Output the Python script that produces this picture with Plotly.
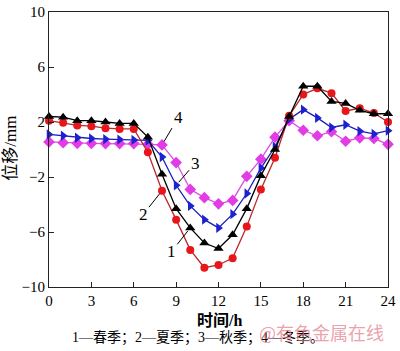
import plotly.graph_objects as go

hours = list(range(25))
spring = [2.4, 2.35, 2.1, 2.1, 2.0, 1.9, 1.9, 0.9, -1.8, -4.3, -5.7, -6.8, -7.2, -6.2, -4.3, -1.9, 0.0, 2.4, 4.6, 4.6, 3.5, 3.35, 2.85, 2.6, 2.6]
summer = [2.1, 1.95, 1.75, 1.7, 1.55, 1.5, 1.5, -0.2, -3.0, -5.1, -7.3, -8.6, -8.4, -7.9, -5.6, -2.9, -0.6, 2.45, 4.0, 4.45, 4.1, 2.8, 3.0, 2.65, 2.0]
autumn = [1.1, 1.0, 0.85, 0.8, 0.75, 0.72, 0.7, 0.66, -0.55, -2.6, -4.1, -5.1, -5.7, -4.7, -3.2, -1.35, 0.2, 2.2, 2.9, 2.3, 1.6, 1.8, 1.33, 1.13, 1.37]
winter = [0.55, 0.5, 0.45, 0.45, 0.43, 0.43, 0.43, 0.38, 0.33, -0.95, -2.9, -3.5, -3.95, -3.7, -1.95, -0.7, 0.9, 2.1, 1.4, 1.0, 1.3, 0.6, 0.85, 0.8, 0.38]

x_ticks = [0, 3, 6, 9, 12, 15, 18, 21, 24]
y_ticks = [-10, -6, -2, 2, 6, 10]
caption = "1—春季；2—夏季；3—秋季；4—冬季。"

serif = "Liberation Serif, Noto Sans CJK SC"

fig = go.Figure()
series = [
    (winter, "#e23ce6", "#d94ee0", "diamond", 9),
    (autumn, "#1d22d0", "#1a1eb8", "triangle-right", 9),
    (summer, "#e8161a", "#b8282a", "circle", 8),
    (spring, "#000000", "#000000", "triangle-up", 9),
]
for vals, mc, lc, sym, sz in series:
    fig.add_trace(go.Scatter(
        x=hours, y=vals, mode="lines+markers",
        line=dict(color=lc, width=1.3),
        marker=dict(symbol=sym, size=sz, color=mc, line=dict(width=0)),
        cliponaxis=False, showlegend=False,
    ))

ann_font = dict(family=serif, size=17, color="#000")
labels = [
    ("4", hours[8], winter[8], 16, -27),
    ("3", hours[9], autumn[9], 19, -22),
    ("2", hours[8], summer[8], -19, 24),
    ("1", hours[10], spring[10], -19, 24),
]
annotations = []
for txt, xv, yv, ax, ay in labels:
    annotations.append(dict(x=xv, y=yv, xref="x", yref="y", text=txt, showarrow=True,
                            arrowhead=0, arrowwidth=1, arrowcolor="#000", ax=ax, ay=ay,
                            standoff=4, font=ann_font))

annotations += [
    dict(text="<b>时间/h</b>", x=0.503, y=-0.1226, xref="paper", yref="paper",
         showarrow=False, xanchor="center", yanchor="middle",
         font=dict(family=serif, size=16, color="#000")),
    dict(text="位移/mm", x=-0.116, y=0.505, xref="paper", yref="paper", textangle=-90,
         showarrow=False, xanchor="center", yanchor="middle",
         font=dict(family=serif, size=17, color="#000")),
    dict(text=caption, x=0.439, y=-0.187, xref="paper", yref="paper",
         showarrow=False, xanchor="center", yanchor="middle",
         font=dict(family=serif, size=14, color="#000")),
    dict(text="@有色金属在线", x=0.805, y=-0.1625, xref="paper", yref="paper",
         showarrow=False, xanchor="center", yanchor="middle",
         font=dict(family="Noto Sans CJK SC", size=18, color="rgba(226,120,135,0.7)")),
]

axis_common = dict(showgrid=False, zeroline=False, showline=True, linecolor="#222",
                   linewidth=1.2, mirror=True, ticks="inside", ticklen=5, tickwidth=1,
                   tickcolor="#222", ticklabeloverflow="allow",
                   tickfont=dict(family=serif, size=15, color="#000"))

fig.update_layout(
    width=400, height=351,
    margin=dict(l=49, r=7, t=4, b=64),
    paper_bgcolor="white", plot_bgcolor="white",
    xaxis=dict(range=[0, 24], tickvals=x_ticks, **axis_common),
    yaxis=dict(range=[-10, 10], tickvals=y_ticks, **axis_common),
    annotations=annotations,
)

fig.write_html("out.html")
